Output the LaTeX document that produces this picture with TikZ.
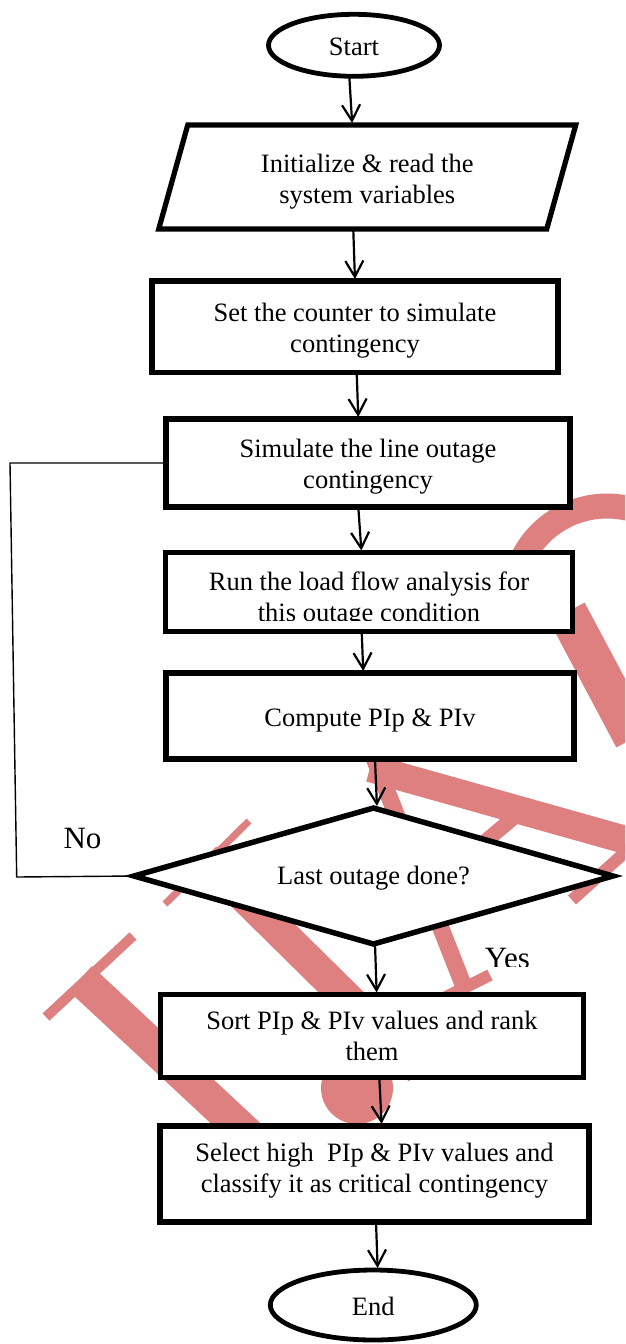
\documentclass[tikz,border=0pt]{standalone}
\usepackage{fontspec}
\setmainfont{Liberation Serif}
\usetikzlibrary{shapes.geometric,arrows.meta,calc}
\definecolor{wm}{RGB}{222,128,128}
\newcommand\flowfont{\fontsize{26.5pt}{31pt}\selectfont}
\newcommand\lblfont{\fontsize{31pt}{36pt}\selectfont}
\newcommand\hstrut[1]{\rule{0pt}{#1}}
\newcommand\dstrut[1]{\rule[-#1]{0pt}{0pt}}
\begin{document}
\begin{tikzpicture}[x=1pt,y=-1pt,
  every node/.style={inner sep=0pt, outer sep=0pt},
  flowbox/.style={draw, line width=5.5pt, fill=white, align=center, font=\flowfont},
  term/.style={ellipse, draw, line width=4.8pt, fill=white, font=\flowfont},
  cond/.style={diamond, draw, line width=5.5pt, fill=white, font=\flowfont},
  arr/.style={line width=2.2pt, -{Straight Barb[length=16pt,width=18pt]}, shorten >=2pt},
  loopline/.style={line width=1.4pt},
  wmstroke/.style={draw=wm, line cap=butt}]
\clip (0,0) rectangle (625,1344);
\fill[white] (0,0) rectangle (625,1344);

% watermark
\begin{scope}[wmstroke]
\draw[line width=34pt] (80.3,978.6) -- (303,1186);
\draw[line width=10pt] (46,1017) -- (133,936);
\draw[line width=7pt] (165,904) -- (249,821);
\draw[line width=32pt] (205,858) -- (420,1070);
\fill[wm] (357,1088) circle (36);
\draw[line width=17pt] (370,748) -- (466,992);
\draw[line width=12pt] (440,1000) -- (490,975);
\draw[line width=28pt] (370,768) -- (640,844);
\draw[line width=12pt] (572,900) -- (632,846);
\draw[line width=15pt] (430,888) -- (525,808);
\draw[line width=25pt] (607,600) ++(195:94) arc[start angle=195, end angle=300, radius=94];
\draw[line width=40pt] (567,612) -- (634,738);
\end{scope}

% nodes
\node[term, minimum width=171pt, minimum height=62pt] (start) at (354,45.3) {\hstrut{20pt}Start};
\node[minimum width=388pt, minimum height=104pt] (init) at (367.25,177) {};
\draw[line width=5.2pt, fill=white] ($(init.north west)+(14.5,0)$) -- ($(init.north east)+(14.5,0)$) -- ($(init.south east)+(-14.5,0)$) -- ($(init.south west)+(-14.5,0)$) -- cycle;
\node[font=\flowfont, align=center] (inittxt) at (init.center) {\hstrut{28pt}Initialize \& read the\\system variables};
\node[flowbox, minimum width=406pt, minimum height=91.5pt] (set) at (355,326.75) {\hstrut{26pt}Set the counter to simulate\\contingency};
\node[flowbox, minimum width=404pt, minimum height=88pt] (sim) at (368,463) {\hstrut{26pt}Simulate the line outage\\contingency};
\node[flowbox, minimum width=407pt, minimum height=79pt] (run) at (369,592) {};
\begin{scope}
\clip (170,556) rectangle (570,620);
\node[font=\flowfont, align=center] (runtxt) at (369,600) {Run the load flow analysis for\\this outage condition};
\end{scope}
\node[flowbox, minimum width=408pt, minimum height=86pt] (comp) at (370,716) {\hstrut{26pt}Compute PIp \& PIv};
\node[cond, aspect=3.522, minimum width=479pt, minimum height=136pt] (dia) at (373.5,876) {\hstrut{23pt}Last outage done?};
\node[flowbox, minimum width=423pt, minimum height=83pt] (sort) at (372,1036) {Sort PIp \& PIv values and rank\\them};
\node[flowbox, minimum width=429pt, minimum height=96pt] (sel) at (374.5,1174) {Select high\ \ PIp \& PIv values and\\classify it as critical contingency\dstrut{12pt}};
\node[term, minimum width=206pt, minimum height=70pt] (end) at (373.3,1305) {\hstrut{21pt}End};

% arrows
\draw[arr] ([xshift=-4.7pt]start.south) -- ([xshift=-15pt]init.north);
\draw[arr] ([xshift=-14pt]init.south) -- (set.north);
\draw[arr] ([xshift=1.7pt]set.south) -- ([xshift=-9.7pt]sim.north);
\draw[arr] ([xshift=-9.7pt]sim.south) -- ([xshift=-7.5pt]run.north);
\draw[arr] ([xshift=-7.3pt]run.south) -- ([xshift=-6.7pt]comp.north);
\draw[arr] ([xshift=5pt]comp.south) -- ([xshift=3.5pt]dia.north);
\draw[arr] ([xshift=1.5pt]dia.south) -- ([xshift=4.7pt]sort.north);
\draw[arr] ([xshift=7.3pt]sort.south) -- ([xshift=7.2pt]sel.north);
\draw[arr] ([xshift=1.5pt]sel.south) -- ([xshift=4.4pt]end.north);

% loop back
\coordinate (fb1) at (10,463);
\coordinate (fb2) at (16.7,877);
\draw[loopline] (sim.west) -- (fb1) -- (fb2) -- (dia.west);

% labels
\node[font=\lblfont, anchor=base] (no) at (82.5,848) {No};
\begin{scope}
\clip (470,930) rectangle (560,966.5);
\node[font=\lblfont, anchor=base] (yes) at (507.5,968.5) {Yes};
\end{scope}
\end{tikzpicture}
\end{document}
